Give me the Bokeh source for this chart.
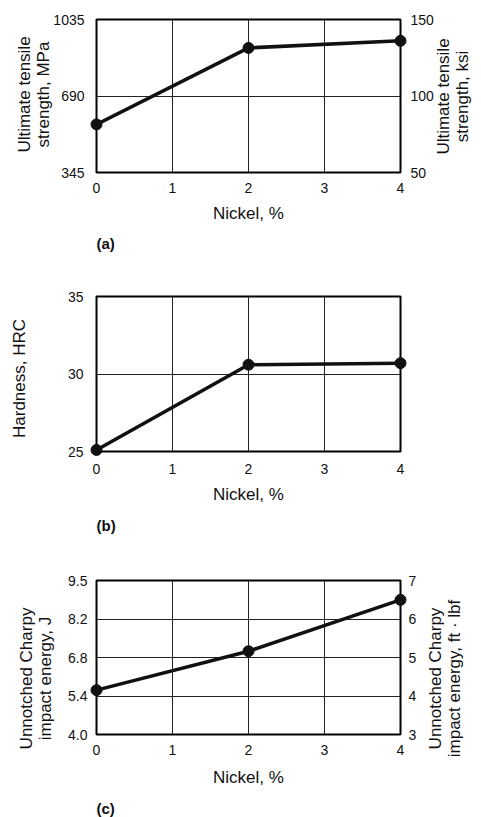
import math
from bokeh.plotting import figure
from bokeh.models import Range1d, LinearAxis, FixedTicker, Title
from bokeh.core.properties import value
from bokeh.layouts import column
from bokeh.embed import file_html
from bokeh.resources import INLINE

# ---- data ----
nickel = [0, 2, 4]
x_ticks = [0, 1, 2, 3, 4]

uts_mpa = [562, 907, 939]
uts_mpa_ticks = [345, 690, 1035]
uts_ksi_ticks = [50, 100, 150]

hardness_hrc = [25.1, 30.6, 30.7]
hardness_ticks = [25, 30, 35]

charpy_j = [5.63, 7.0, 8.81]
charpy_ftlbf_ticks = [3, 4, 5, 6, 7]
charpy_j_labels = ["4.0", "5.4", "6.8", "8.2", "9.5"]
FTLBF_TO_J = 1.35582

TICK_FONT = "Liberation Sans"
LABEL_FONT = "Liberation Sans"
INK = "#111111"
FRAME_W = 304


def style_axis(ax, label_std, axis_std):
    ax.axis_line_color = None
    ax.major_tick_line_color = None
    ax.minor_tick_line_color = None
    ax.major_tick_out = 0
    ax.major_tick_in = 0
    ax.major_label_text_font = TICK_FONT
    ax.major_label_text_font_size = "14px"
    ax.major_label_text_color = INK
    ax.major_label_standoff = label_std
    ax.axis_label_standoff = axis_std
    ax.axis_label_text_font = LABEL_FONT
    ax.axis_label_text_font_size = "17px"
    ax.axis_label_text_font_style = "normal"
    ax.axis_label_text_color = INK


def base(fh, top, bottom, ylo, yhi, ticks, left_std, bot_std, bot_lab_std):
    p = figure(frame_width=FRAME_W, frame_height=fh, output_backend="svg", toolbar_location=None,
               x_range=Range1d(0, 4), y_range=Range1d(ylo, yhi),
               min_border_left=96, min_border_right=81,
               min_border_top=top, min_border_bottom=bottom)
    p.outline_line_color = "black"
    p.outline_line_width = 2
    p.background_fill_color = "white"
    p.border_fill_color = "white"
    style_axis(p.xaxis[0], bot_std, bot_lab_std)
    style_axis(p.yaxis[0], left_std, 0)
    p.xaxis.ticker = FixedTicker(ticks=x_ticks)
    p.yaxis.ticker = FixedTicker(ticks=ticks)
    p.xaxis.axis_label = "Nickel, %"
    p.xgrid.ticker = FixedTicker(ticks=x_ticks)
    p.ygrid.ticker = FixedTicker(ticks=ticks)
    for g in (p.xgrid[0], p.ygrid[0]):
        g.grid_line_color = "#222222"
        g.grid_line_width = 1
    return p


def vlabel(p, text, px, py):
    # vertical axis title reading bottom-to-top; px/py are pixel offsets from the
    # frame's lower-left corner, converted through the plot's own ranges
    xr, yr = p.x_range, p.y_range
    x = xr.start + px * (xr.end - xr.start) / p.frame_width
    y = yr.start + py * (yr.end - yr.start) / p.frame_height
    r = p.text(x=[x], y=[y], text=[text], angle=math.pi / 2,
               text_align="center", text_baseline="middle",
               text_font=value(LABEL_FONT), text_font_size="17px", text_color=INK,
               text_line_height=1.0)
    r.level = "overlay"


def add_right(p, ax, label_std):
    style_axis(ax, label_std, 0)
    p.add_layout(ax, "right")


def add_series(p, x, y):
    p.line(x, y, line_color=INK, line_width=3.5)
    r = p.scatter(x, y, size=11, fill_color=INK, line_color=INK)
    r.level = "overlay"


def add_tag(p, text, std):
    t = Title(text=text, align="left", text_font=LABEL_FONT, text_font_size="15px",
              text_font_style="bold", text_color=INK, standoff=std)
    p.add_layout(t, "below")


# (a) ultimate tensile strength
pa = base(153, 19, 90, 345, 1035, uts_mpa_ticks, 12, 10, 8)
vlabel(pa, "Ultimate tensile\nstrength, MPa", -63, 78)
pa.extra_y_ranges = {"ksi": Range1d(50, 150)}
ra = LinearAxis(y_range_name="ksi", ticker=FixedTicker(ticks=uts_ksi_ticks))
add_right(pa, ra, 10)
vlabel(pa, "Ultimate tensile\nstrength, ksi", 356, 76)
add_series(pa, nickel, uts_mpa)
add_tag(pa, "(a)", 15)

# (b) hardness
pb = base(155, 34, 89, 25, 35, hardness_ticks, 13, 12, 8)
vlabel(pb, "Hardness, HRC", -77, 73)
add_series(pb, nickel, hardness_hrc)
add_tag(pb, "(b)", 17)

# (c) charpy
j_ticks = [t * FTLBF_TO_J for t in charpy_ftlbf_ticks]
pc = base(154, 38, 85, j_ticks[0], j_ticks[-1], j_ticks, 9, 10, 10)
vlabel(pc, "Unnotched Charpy\nimpact energy, J", -61, 56)
pc.yaxis.major_label_overrides = {t: lab for t, lab in zip(j_ticks, charpy_j_labels)}
pc.extra_y_ranges = {"ftlbf": Range1d(charpy_ftlbf_ticks[0], charpy_ftlbf_ticks[-1])}
rc = LinearAxis(y_range_name="ftlbf", ticker=FixedTicker(ticks=charpy_ftlbf_ticks))
add_right(pc, rc, 8)
vlabel(pc, "Unnotched Charpy\nimpact energy, ft \u00b7 lbf", 348, 56)
add_series(pc, nickel, charpy_j)
add_tag(pc, "(c)", 16)

layout = column(pa, pb, pc, spacing=0)
open("out.html", "w").write(file_html(layout, INLINE))
